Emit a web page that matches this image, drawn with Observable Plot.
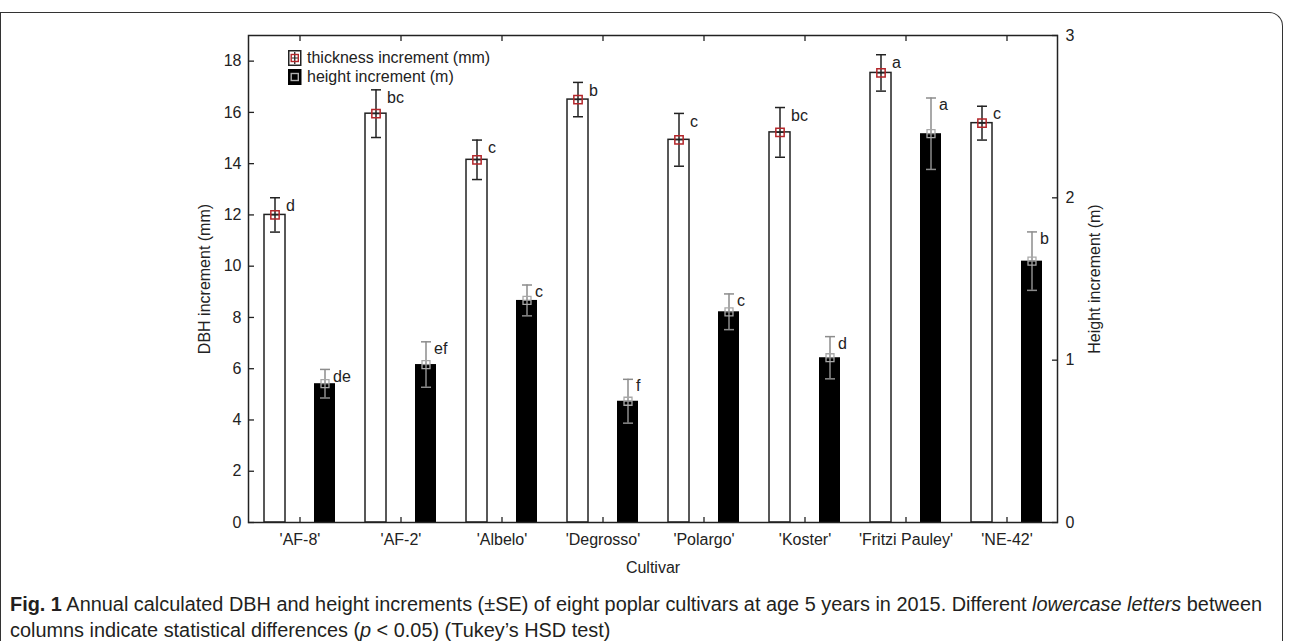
<!DOCTYPE html>
<html>
<head>
<meta charset="utf-8">
<script src="https://cdn.jsdelivr.net/npm/d3@7"></script>
<script src="https://cdn.jsdelivr.net/npm/@observablehq/plot@0.6"></script>
<style>
  html, body { margin: 0; padding: 0; background: #fff; }
  #wrap { position: relative; width: 1292px; height: 641px; overflow: hidden; background: #fff; }
  #chart { position: absolute; left: 0; top: 0; }
  #border { position: absolute; left: 0; top: 12px; width: 1283px; height: 700px; border: 1.5px solid #333; border-bottom: none; border-top-right-radius: 14px; pointer-events: none; box-sizing: border-box; }
  #legend { position: absolute; left: 288px; top: 50px; font-family: "Liberation Sans", Arial, sans-serif; font-size: 16px; color: #222; }
  .lg { position: absolute; left: 0; white-space: nowrap; height: 16px; line-height: 16px; }
  .lg svg { position: absolute; left: 0; top: 0; }
  .lg span { position: absolute; left: 19px; top: 0; }
  .ytitle { position: absolute; width: 300px; height: 20px; line-height: 20px; margin-left: -150px; margin-top: -10px; text-align: center; transform: rotate(-90deg); font-family: "Liberation Sans", Arial, sans-serif; font-size: 16px; color: #222; white-space: nowrap; }
  #caption { position: absolute; left: 10px; top: 591px; font-family: "Liberation Sans", Arial, sans-serif; font-size: 20px; line-height: 26px; color: #231f20; white-space: nowrap; }
  #caption .line { display: inline-block; transform-origin: 0 50%; }
</style>
</head>
<body>
<div id="wrap">
  <div id="chart"></div>
  <div id="legend"></div>
  <div id="yl" class="ytitle" style="left:205px; top:279px;"></div>
  <div id="yr" class="ytitle" style="left:1095px; top:279px;"></div>
  <div id="caption"></div>
  <div id="border"></div>
</div>
<script>
// ---- data ----
const cultivars = ["'AF-8'", "'AF-2'", "'Albelo'", "'Degrosso'", "'Polargo'", "'Koster'", "'Fritzi Pauley'", "'NE-42'"];
const dbhIncrement = [12.0, 15.95, 14.15, 16.5, 14.93, 15.22, 17.54, 15.58];
const dbhSE = [0.67, 0.93, 0.77, 0.67, 1.03, 0.97, 0.71, 0.66];
const dbhLetters = ["d", "bc", "c", "b", "c", "bc", "a", "c"];
const heightIncrement = [0.855, 0.973, 1.368, 0.747, 1.298, 1.015, 2.395, 1.61];
const heightSE = [0.088, 0.14, 0.095, 0.135, 0.11, 0.13, 0.22, 0.18];
const heightLetters = ["de", "ef", "c", "f", "c", "d", "a", "b"];
const leftTicks = [0, 2, 4, 6, 8, 10, 12, 14, 16, 18];
const rightTicks = [0, 1, 2, 3];
const leftMax = 19;
const rightMax = 3;
const legendLabels = ["thickness increment (mm)", "height increment (m)"];
const xLabel = "Cultivar";
const yLeftLabel = "DBH increment (mm)";
const yRightLabel = "Height increment (m)";

// ---- derived ----
const k = leftMax / rightMax; // height (m) -> left-axis units
const rows = cultivars.map((c, i) => ({
  cultivar: c,
  dbh: dbhIncrement[i], dbhLo: dbhIncrement[i] - dbhSE[i], dbhHi: dbhIncrement[i] + dbhSE[i], dbhLetter: dbhLetters[i],
  h: heightIncrement[i] * k, hLo: (heightIncrement[i] - heightSE[i]) * k, hHi: (heightIncrement[i] + heightSE[i]) * k, hLetter: heightLetters[i]
}));

const hline = { draw(ctx, size) { const r = Math.sqrt(size / Math.PI); ctx.moveTo(-r, 0); ctx.lineTo(r, 0); } };

const INK = "#222";
const GREY = "#8c8c8c";
const RED = "#b3262a";
const OFF = 25;

const chart = Plot.plot({
  width: 1292,
  height: 580,
  marginLeft: 248,
  marginRight: 235,
  marginTop: 35,
  marginBottom: 58,
  style: { fontFamily: "'Liberation Sans', Arial, sans-serif", fontSize: "16px", color: INK, background: "transparent" },
  x: { domain: cultivars, padding: 0, label: null },
  y: { domain: [0, leftMax], label: null },
  marks: [
    // bars
    Plot.barY(rows, { x: "cultivar", y: "dbh", fill: "white", stroke: INK, strokeWidth: 1.5, insetLeft: 15, insetRight: 65 }),
    Plot.barY(rows, { x: "cultivar", y: "h", fill: "black", insetLeft: 65, insetRight: 15 }),
    // thickness error bars
    Plot.ruleX(rows, { x: "cultivar", y1: "dbhLo", y2: "dbhHi", dx: -OFF, stroke: INK, strokeWidth: 1.5 }),
    Plot.dot(rows, { x: "cultivar", y: "dbhLo", dx: -OFF, symbol: hline, r: 5, stroke: INK, fill: "none", strokeWidth: 1.5 }),
    Plot.dot(rows, { x: "cultivar", y: "dbhHi", dx: -OFF, symbol: hline, r: 5, stroke: INK, fill: "none", strokeWidth: 1.5 }),
    Plot.dot(rows, { x: "cultivar", y: "dbh", dx: -OFF, symbol: hline, r: 4, stroke: INK, fill: "none", strokeWidth: 1.2 }),
    Plot.dot(rows, { x: "cultivar", y: "dbh", dx: -OFF, symbol: "square", r: 4.7, stroke: RED, fill: "none", strokeWidth: 1.5 }),
    // height error bars
    Plot.ruleX(rows, { x: "cultivar", y1: "hLo", y2: "hHi", dx: OFF, stroke: GREY, strokeWidth: 1.5 }),
    Plot.dot(rows, { x: "cultivar", y: "hLo", dx: OFF, symbol: hline, r: 5, stroke: GREY, fill: "none", strokeWidth: 1.5 }),
    Plot.dot(rows, { x: "cultivar", y: "hHi", dx: OFF, symbol: hline, r: 5, stroke: GREY, fill: "none", strokeWidth: 1.5 }),
    Plot.dot(rows, { x: "cultivar", y: "h", dx: OFF, symbol: hline, r: 4, stroke: GREY, fill: "none", strokeWidth: 1.2 }),
    Plot.dot(rows, { x: "cultivar", y: "h", dx: OFF, symbol: "square", r: 4.5, stroke: "#a8a8a8", fill: "none", strokeWidth: 1.3 }),
    // letters
    Plot.text(rows, { x: "cultivar", y: "dbhHi", text: "dbhLetter", dx: -OFF + 11, dy: 8, textAnchor: "start", fill: INK, fontSize: 16 }),
    Plot.text(rows, { x: "cultivar", y: "hHi", text: "hLetter", dx: OFF + 8, dy: 7, textAnchor: "start", fill: INK, fontSize: 16 }),
    // axes
    Plot.axisY({ anchor: "left", ticks: leftTicks, tickSize: -6, tickPadding: 13, label: null, stroke: INK, strokeWidth: 1.3, fontSize: 16 }),
    Plot.axisY({ anchor: "right", ticks: rightTicks.map(t => t * k), tickSize: -6, tickPadding: 14, tickFormat: d => String(Math.round(d / k)), label: null, stroke: INK, strokeWidth: 1.3, fontSize: 16 }),
    Plot.axisX({ anchor: "bottom", tickSize: -5, tickPadding: 16, label: null, stroke: INK, strokeWidth: 1.3, fontSize: 16 }),
    Plot.axisX({ anchor: "top", tickSize: -5, tickFormat: () => "", label: null, stroke: INK, strokeWidth: 1.3 }),
    Plot.frame({ stroke: INK, strokeWidth: 1.5 }),
    Plot.text([xLabel], { text: d => d, frameAnchor: "bottom", dy: 45, lineAnchor: "middle", fill: INK, fontSize: 16 })
  ]
});
document.getElementById("chart").appendChild(chart);
document.getElementById("yl").textContent = yLeftLabel;
document.getElementById("yr").textContent = yRightLabel;

// legend
const legend = document.getElementById("legend");
const sym1 = `<svg width="14" height="16" viewBox="0 0 14 16"><rect x="0.75" y="0.75" width="12" height="14.5" fill="#fff" stroke="${INK}" stroke-width="1.5"/><line x1="6.75" y1="2" x2="6.75" y2="14" stroke="${INK}" stroke-width="1.3"/><line x1="3.5" y1="8" x2="10" y2="8" stroke="${INK}" stroke-width="1"/><rect x="3.2" y="4.5" width="7.1" height="7" fill="none" stroke="${RED}" stroke-width="1.4"/></svg>`;
const sym2 = `<svg width="14" height="16" viewBox="0 0 14 16"><rect x="0" y="0" width="13.5" height="16" fill="#000"/><rect x="3.2" y="4.5" width="7.1" height="7" fill="none" stroke="#b0b0b0" stroke-width="1.4"/></svg>`;
[[sym1, legendLabels[0], 0], [sym2, legendLabels[1], 19]].forEach(([s, t, top]) => {
  const d = document.createElement("div");
  d.className = "lg";
  d.style.top = top + "px";
  d.innerHTML = s + `<span>${t}</span>`;
  legend.appendChild(d);
});

// caption (condensed face emulated by a horizontal squeeze)
const cap = document.getElementById("caption");
cap.innerHTML =
  "<span class='line'><b>Fig. 1</b> Annual calculated DBH and height increments (±SE) of eight poplar cultivars at age 5 years in 2015. Different <i>lowercase letters</i> between</span><br>" +
  "<span class='line'>columns indicate statistical differences (<i>p</i> &lt; 0.05) (Tukey’s HSD test)</span>";
const lines = cap.querySelectorAll(".line");
const squeeze = 1252 / lines[0].getBoundingClientRect().width;
lines.forEach(l => { l.style.transform = `scaleX(${squeeze})`; });
</script>
</body>
</html>
